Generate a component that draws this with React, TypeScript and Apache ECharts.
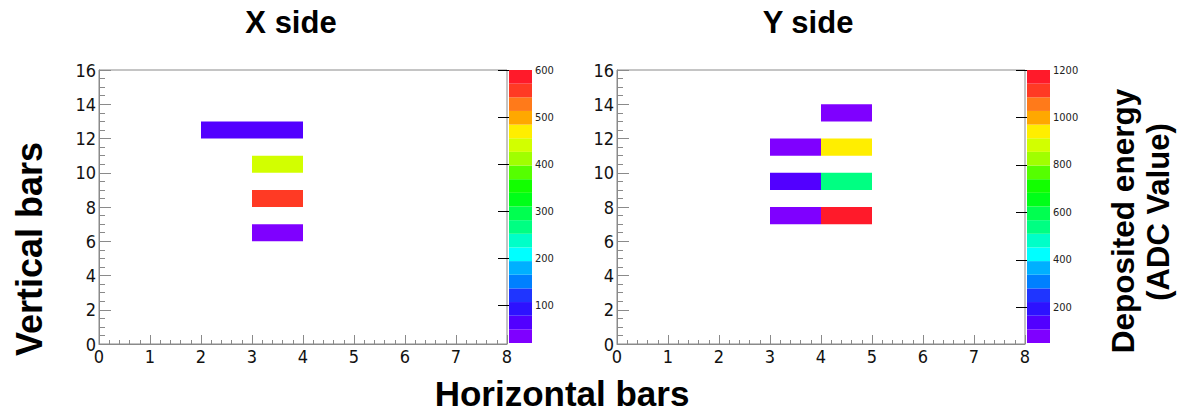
import React, { useEffect, useRef } from "react";
import * as echarts from "echarts";

// ---- data ----
const xSideCells: number[][] = [
  [2, 12, 62],
  [3, 12, 62],
  [3, 10, 440],
  [3, 8, 560],
  [3, 6, 20],
];
const ySideCells: number[][] = [
  [4, 13, 60],
  [3, 11, 55],
  [4, 11, 940],
  [3, 9, 135],
  [4, 9, 540],
  [3, 7, 50],
  [4, 7, 1200],
];
const xSideRange = [20, 600];
const ySideRange = [50, 1200];
const xSideTicks = [100, 200, 300, 400, 500, 600];
const ySideTicks = [200, 400, 600, 800, 1000, 1200];
const nLevels = 20;
const palette = [
  "#7f00ff", "#5200ff", "#2d12ff", "#1f35ff", "#0080ff",
  "#00b0ff", "#00ffff", "#00ffc8", "#00ff82", "#00ff50",
  "#00ff18", "#12ff00", "#55ff00", "#a0ff00", "#d2ff00",
  "#ffee00", "#ffa800", "#ff7a1a", "#ff3a24", "#ff1a2a",
];

const NARROW = "'Liberation Sans Narrow', 'DejaVu Sans Condensed', 'Liberation Sans', sans-serif";
const BOLD = "'Liberation Sans', Arial, sans-serif";

function levelBands(range: number[]) {
  const [lo, hi] = range;
  const step = (hi - lo) / nLevels;
  const out: number[][] = [];
  for (let i = 0; i < nLevels; i++) out.push([lo + i * step, lo + (i + 1) * step, lo + (i + 0.5) * step]);
  return out;
}

function pieces(range: number[]) {
  return levelBands(range).map((b, i) =>
    i === nLevels - 1
      ? { gte: b[0], lte: b[1] + 1e-6, color: palette[i] }
      : { gte: b[0], lt: b[1], color: palette[i] }
  );
}

const cellRender = (params: any, api: any) => {
  const x = api.value(0);
  const y = api.value(1);
  const p0 = api.coord([x, y + 1]);
  const p1 = api.coord([x + 1, y]);
  return {
    type: "rect",
    shape: { x: p0[0], y: p0[1], width: p1[0] - p0[0], height: p1[1] - p0[1] },
    style: { fill: api.visual("color") },
  };
};

const barRender = (params: any, api: any) => {
  const lo = api.value(0);
  const hi = api.value(1);
  const p0 = api.coord([0, hi]);
  const p1 = api.coord([1, lo]);
  return {
    type: "rect",
    shape: { x: p0[0], y: p0[1], width: p1[0] - p0[0], height: p1[1] - p0[1] },
    style: { fill: api.visual("color") },
  };
};

const GRAY = "#8a8a8a";
const plain = (v: number) => String(v);

function plotXAxis(gridIndex: number) {
  return {
    type: "value",
    gridIndex,
    min: 0,
    max: 8,
    interval: 1,
    axisLine: { show: true, lineStyle: { color: GRAY, width: 1 } },
    axisTick: { show: true, inside: true, length: 9, lineStyle: { color: GRAY } },
    minorTick: { show: true, splitNumber: 5, length: 4, lineStyle: { color: GRAY } },
    splitLine: { show: false },
    axisLabel: { fontSize: 18, fontFamily: NARROW, color: "#111", margin: 3, formatter: plain },
  };
}
function plotYAxis(gridIndex: number) {
  return {
    type: "value",
    gridIndex,
    min: 0,
    max: 16,
    interval: 2,
    axisLine: { show: true, lineStyle: { color: GRAY, width: 1 } },
    axisTick: { show: true, inside: true, length: 12, lineStyle: { color: GRAY } },
    minorTick: { show: true, splitNumber: 4, length: 6, lineStyle: { color: GRAY } },
    splitLine: { show: false },
    axisLabel: { fontSize: 18, fontFamily: NARROW, color: "#111", margin: 3, formatter: plain },
  };
}
function barXAxis(gridIndex: number) {
  return { type: "value", gridIndex, min: 0, max: 1, show: false };
}
function barYAxis(gridIndex: number, range: number[], ticks: number[]) {
  return {
    type: "value",
    gridIndex,
    position: "right",
    min: range[0],
    max: range[1],
    axisLine: { show: false },
    axisTick: { show: true, inside: true, length: 11, customValues: ticks, lineStyle: { color: "#000" } },
    splitLine: { show: false },
    axisLabel: { fontSize: 11, fontFamily: NARROW, color: "#222", margin: 3, customValues: ticks, formatter: plain },
  };
}

export default function App() {
  const ref = useRef<HTMLDivElement>(null);
  useEffect(() => {
    if (!ref.current) return;
    const chart = echarts.init(ref.current, null, { renderer: "svg" });
    const gridTop = 70;
    const gridH = 274;
    chart.setOption({
      animation: false,
      backgroundColor: "#ffffff",
      grid: [
        { left: 99, top: gridTop, width: 408, height: gridH, show: true, borderColor: GRAY, borderWidth: 1, backgroundColor: "transparent" },
        { left: 509, top: gridTop, width: 23, height: gridH - 1 },
        { left: 617, top: gridTop, width: 408, height: gridH, show: true, borderColor: GRAY, borderWidth: 1, backgroundColor: "transparent" },
        { left: 1027, top: gridTop, width: 23, height: gridH - 1 },
      ],
      xAxis: [plotXAxis(0), barXAxis(1), plotXAxis(2), barXAxis(3)],
      yAxis: [plotYAxis(0), barYAxis(1, xSideRange, xSideTicks), plotYAxis(2), barYAxis(3, ySideRange, ySideTicks)],
      visualMap: [
        { type: "piecewise", show: false, dimension: 2, seriesIndex: [0, 1], pieces: pieces(xSideRange) },
        { type: "piecewise", show: false, dimension: 2, seriesIndex: [2, 3], pieces: pieces(ySideRange) },
      ],
      series: [
        { type: "custom", name: "X side", xAxisIndex: 0, yAxisIndex: 0, renderItem: cellRender, data: xSideCells, encode: { x: 0, y: 1 } },
        { type: "custom", name: "X scale", xAxisIndex: 1, yAxisIndex: 1, renderItem: barRender, data: levelBands(xSideRange), encode: { y: [0, 1] } },
        { type: "custom", name: "Y side", xAxisIndex: 2, yAxisIndex: 2, renderItem: cellRender, data: ySideCells, encode: { x: 0, y: 1 } },
        { type: "custom", name: "Y scale", xAxisIndex: 3, yAxisIndex: 3, renderItem: barRender, data: levelBands(ySideRange), encode: { y: [0, 1] } },
      ],
      graphic: [
        { type: "text", x: 291, y: 22, style: { text: "X side", fontFamily: BOLD, fontWeight: "bold", fontSize: 31, fill: "#000", textAlign: "center", textVerticalAlign: "middle" } },
        { type: "text", x: 808, y: 22, style: { text: "Y side", fontFamily: BOLD, fontWeight: "bold", fontSize: 31, fill: "#000", textAlign: "center", textVerticalAlign: "middle" } },
        { type: "text", x: 562, y: 393, style: { text: "Horizontal bars", fontFamily: BOLD, fontWeight: "bold", fontSize: 35, fill: "#000", textAlign: "center", textVerticalAlign: "middle" } },
        { type: "text", x: 29, y: 249, rotation: Math.PI / 2, style: { text: "Vertical bars", fontFamily: BOLD, fontWeight: "bold", fontSize: 36, fill: "#000", textAlign: "center", textVerticalAlign: "middle" } },
        { type: "text", x: 1123, y: 221, rotation: Math.PI / 2, style: { text: "Deposited energy", fontFamily: BOLD, fontWeight: "bold", fontSize: 31.5, fill: "#000", textAlign: "center", textVerticalAlign: "middle" } },
        { type: "text", x: 1158, y: 212, rotation: Math.PI / 2, style: { text: "(ADC Value)", fontFamily: BOLD, fontWeight: "bold", fontSize: 31, fill: "#000", textAlign: "center", textVerticalAlign: "middle" } },
      ],
    });
    return () => chart.dispose();
  }, []);
  return <div ref={ref} style={{ position: "absolute", left: 0, top: 0, width: 1183, height: 413 }} />;
}
